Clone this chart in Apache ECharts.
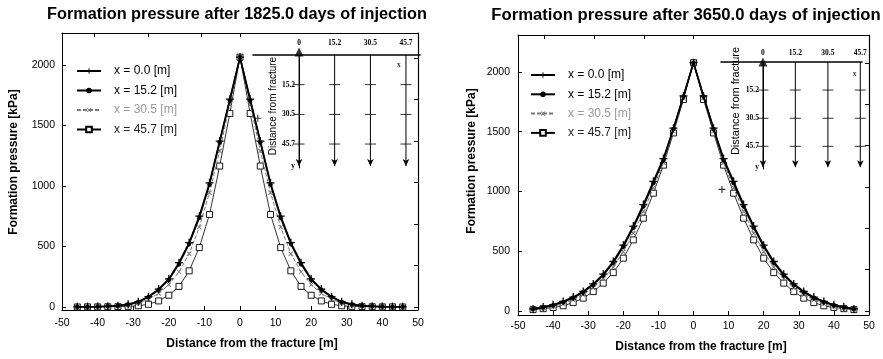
<!DOCTYPE html>
<html><head><meta charset="utf-8">
<script src="https://cdn.jsdelivr.net/npm/echarts@6/dist/echarts.min.js"></script>
<style>html,body{margin:0;padding:0;background:#fff}#c{width:883px;height:359px}</style>
</head><body><div id="c"></div>
<script>
// ---- data ----
const distances = [-45.7,-42.84,-39.99,-37.13,-34.28,-31.42,-28.56,-25.71,-22.85,-19.99,-17.14,-14.28,-11.43,-8.57,-5.71,-2.86,0,2.86,5.71,8.57,11.43,14.28,17.14,19.99,22.85,25.71,28.56,31.42,34.28,37.13,39.99,42.84,45.7];
const seriesNames = ['x = 0.0 [m]','x = 15.2 [m]','x = 30.5 [m]','x = 45.7 [m]'];
const titles = ['Formation pressure after 1825.0 days of injection','Formation pressure after 3650.0 days of injection'];
// 1825 days
const p1825_x00  = [1,2,3,6,11,22,44,85,148,232,366,532,751,1026,1372,1718,2065,1718,1372,1026,751,532,366,232,148,85,44,22,11,6,3,2,1];
const p1825_x152 = [1,2,3,6,10,21,42,82,142,225,356,522,738,1012,1362,1708,2065,1708,1362,1012,738,522,356,225,142,82,42,21,10,6,3,2,1];
const p1825_x305 = [1,2,3,5,9,17,33,64,112,185,290,440,660,945,1290,1675,2065,1675,1290,945,660,440,290,185,112,64,33,17,9,5,3,2,1];
const p1825_x457 = [0,1,1,2,3,5,10,22,50,97,170,299,491,765,1165,1600,2065,1600,1165,765,491,299,170,97,50,22,10,5,3,2,1,1,0];
const stray1825 = [[5.0,1560]];
// 3650 days
const p3650_x00  = [16,31,50,78,115,162,225,307,413,550,710,890,1085,1275,1530,1800,2078,1800,1530,1275,1085,890,710,550,413,307,225,162,115,78,50,31,16];
const p3650_x152 = [15,29,47,74,110,156,218,298,402,538,696,875,1070,1263,1522,1795,2078,1795,1522,1263,1070,875,696,538,402,298,218,156,110,74,47,29,15];
const p3650_x305 = [12,24,38,60,93,135,192,268,365,495,650,830,1030,1240,1505,1782,2078,1782,1505,1240,1030,830,650,495,365,268,192,135,93,60,38,24,12];
const p3650_x457 = [10,18,28,42,69,106,161,232,320,441,594,776,985,1220,1490,1770,2078,1770,1490,1220,985,776,594,441,320,232,161,106,69,42,28,18,10];
const stray3650 = [[8.1,1017]];
// axis ticks
const pressureTicks = [0,500,1000,1500,2000];
const rightTicks1825 = [0,343,686,1029,1372,1715,2058];
const rightTicks3650 = [0,346,692,1038,1384,1730,2076];
const topTicks1825 = [-41,-25.8,-10.8,0.2];
const topTicks3650 = [-42.5,-28.4,-14.1,0];
// inset schematic
const insetX = [0,15.2,30.5,45.7];
const insetY = [15.2,30.5,45.7];
const insetArrowEnd = 57;
const insetXMin = -19.7;

// ---- chart ----
const FONT = 'Liberation Sans';
const panels = [
  {data:[p1825_x00,p1825_x152,p1825_x305,p1825_x457], stray:stray1825, rt:rightTicks1825, tt:topTicks1825,
   grid:{left:62,right:465,top:33,bottom:49}, inset:{left:253,right:463,top:55,bottom:191}, ixMax:51.7,
   ymin:-25, ymax:2265, title:{left:232,fs:16.3}, legend:{left:71,top:60,gap:7.5},
   xname:{gap:28,pad:24}, yname:{gap:42,pad:19}, xm:8, ym:7,
   iname:{fs:10,gap:21,pad:11}, itop:8, xlab:[42.7,5.1], triOff:-3},
  {data:[p3650_x00,p3650_x152,p3650_x305,p3650_x457], stray:stray3650, rt:rightTicks3650, tt:topTicks3650,
   grid:{left:518,right:14,top:35,bottom:44}, inset:{left:721,right:21,top:62,bottom:190}, ixMax:46.5,
   ymin:-35, ymax:2310, title:{left:681,fs:16.7}, legend:{left:525,top:64,gap:7.3},
   xname:{gap:26,pad:15}, yname:{gap:40,pad:28}, xm:6, ym:8,
   iname:{fs:11,gap:19,pad:29}, itop:5, xlab:[43,6.3], triOff:0}
];

const plusPath = 'path://M-0.8,-5L0.8,-5L0.8,5L-0.8,5ZM-5,-0.8L5,-0.8L5,0.8L-5,0.8Z';
const styles = [
  {symbol:plusPath, symbolSize:8, itemStyle:{color:'#000'}, lineStyle:{color:'#000',width:1.6}},
  {symbol:'circle', symbolSize:4.5, itemStyle:{color:'#000'}, lineStyle:{color:'#000',width:1.6}},
  {symbol:plusPath, symbolSize:6, symbolRotate:45, itemStyle:{color:'#777'}, lineStyle:{color:'#777',width:1,type:[4,2]}},
  {symbol:'rect', symbolSize:6, itemStyle:{color:'#fff',borderColor:'#000',borderWidth:0.9}, lineStyle:{color:'#000',width:0.8}}
];

const grid=[], xAxis=[], yAxis=[], series=[], title=[], legend=[];
panels.forEach((p,i)=>{ grid[i]=p.grid; });
panels.forEach((p,i)=>{ grid[2+i]=p.inset; });
panels.forEach((p,i)=>{ grid[4+i]=p.grid; });

panels.forEach((p,i)=>{
  const insetW = 883 - p.inset.left - p.inset.right;
  const yOff = -((0 - insetXMin) / (p.ixMax - insetXMin)) * insetW;
  title.push({text:titles[i], left:p.title.left, top:2, textAlign:'center',
    textStyle:{fontFamily:FONT,fontWeight:'bold',fontSize:p.title.fs,color:'#000'}});
  legend.push({orient:'vertical', left:p.legend.left, top:p.legend.top, itemWidth:24, itemHeight:7, itemGap:p.legend.gap,
    data:seriesNames.map((n,k)=>({name:n, textStyle:{color:k===2?'#9a9a9a':(k===3?'#222':'#000')}})),
    textStyle:{fontFamily:FONT,fontSize:12,padding:[0,0,0,8]}, selectedMode:false});
  // main x
  xAxis[i]={gridIndex:i, type:'value', min:-50, max:50, interval:10,
    name:'Distance from the fracture [m]', nameLocation:'middle', nameGap:p.xname.gap,
    nameTextStyle:{fontFamily:FONT,fontWeight:'bold',fontSize:12,color:'#000',padding:[0,0,0,p.xname.pad]},
    axisLine:{onZero:false,lineStyle:{color:'#000',width:1}}, axisTick:{inside:true,length:4,lineStyle:{color:'#000'}},
    axisLabel:{fontFamily:FONT,fontSize:10.5,color:'#000',margin:p.xm,formatter:v=>String(v)}, splitLine:{show:false}};
  // top mirror x
  xAxis[2+i]={gridIndex:4+i, type:'value', min:-50, max:50, position:'top',
    axisLine:{onZero:false,lineStyle:{color:'#000',width:1}}, axisTick:{inside:true,length:4,customValues:p.tt,lineStyle:{color:'#000'}},
    axisLabel:{show:false}, splitLine:{show:false}};
  // inset x
  xAxis[4+i]={gridIndex:2+i, type:'value', min:insetXMin, max:p.ixMax, position:'top',
    axisLine:{onZero:false,lineStyle:{color:'#000',width:1.5}}, axisTick:{show:false},
    axisLabel:{customValues:insetX, formatter:v=>v===0?'0':v.toFixed(1), fontFamily:'Liberation Serif',fontWeight:'bold',fontSize:7.5,color:'#000',margin:p.itop},
    splitLine:{show:false}};
  // main y
  yAxis[i]={gridIndex:i, type:'value', min:p.ymin, max:p.ymax,
    name:'Formation pressure [kPa]', nameLocation:'middle', nameGap:p.yname.gap, nameRotate:90,
    nameTextStyle:{fontFamily:FONT,fontWeight:'bold',fontSize:12,color:'#000',padding:[0,0,0,p.yname.pad]},
    axisLine:{onZero:false,lineStyle:{color:'#000',width:1}},
    axisTick:{inside:true,length:4,customValues:pressureTicks,lineStyle:{color:'#000'}},
    axisLabel:{customValues:pressureTicks,formatter:v=>String(v),fontFamily:FONT,fontSize:10.5,color:'#000',margin:p.ym}, splitLine:{show:false}};
  // right mirror y
  yAxis[2+i]={gridIndex:4+i, type:'value', min:p.ymin, max:p.ymax, position:'right',
    axisLine:{onZero:false,lineStyle:{color:'#000',width:1.2}},
    axisTick:{inside:true,length:4,customValues:p.rt,lineStyle:{color:'#000'}},
    axisLabel:{show:false}, splitLine:{show:false}};
  // inset y (moved onto x = 0 of the inset)
  yAxis[4+i]={gridIndex:2+i, type:'value', min:0, max:58, inverse:true, offset:yOff,
    name:'Distance from fracture', nameLocation:'middle', nameRotate:90, nameGap:p.iname.gap,
    nameTextStyle:{fontFamily:FONT,fontSize:p.iname.fs,color:'#000',padding:[0,0,0,p.iname.pad]},
    axisLine:{show:true,onZero:false,lineStyle:{color:'#000',width:1}}, axisTick:{show:false},
    axisLabel:{customValues:insetY.concat([insetArrowEnd]), formatter:v=>v===insetArrowEnd?'y':v.toFixed(1),
      fontFamily:'Liberation Serif',fontWeight:'bold',fontSize:7.5,color:'#000',margin:4},
    splitLine:{show:false}};

  // main series
  p.data.forEach((arr,k)=>{
    series.push(Object.assign({type:'line', name:seriesNames[k], xAxisIndex:i, yAxisIndex:i,
      data:distances.map((d,j)=>[d,arr[j]]), showAllSymbol:true, z:10-k}, styles[k]));
  });
  series.push({type:'scatter', xAxisIndex:i, yAxisIndex:i, data:p.stray, symbol:plusPath, symbolSize:7, itemStyle:{color:'#000'}, z:10});

  // inset series
  insetX.forEach((x,k)=>{
    series.push({type:'line', xAxisIndex:4+i, yAxisIndex:4+i, symbol:'arrow', symbolSize:[5,7],
      data:[{value:[x,0],symbol:'none'},{value:[x,insetArrowEnd],symbolRotate:180}],
      lineStyle:{color:'#000',width:1}, itemStyle:{color:'#000'}, z:20, silent:true});
  });
  const crosses=[]; insetX.forEach(x=>insetY.forEach(y=>crosses.push([x,y])));
  series.push({type:'scatter', xAxisIndex:4+i, yAxisIndex:4+i, data:crosses, symbol:'rect', symbolSize:[11,1],
    itemStyle:{color:'#000'}, z:21, silent:true});
  series.push({type:'scatter', xAxisIndex:4+i, yAxisIndex:4+i, data:[[insetX[0],0]], symbol:'triangle', symbolSize:[9,9],
    symbolOffset:[0,p.triOff], itemStyle:{color:'#000'}, z:22, silent:true});
  series.push({type:'scatter', xAxisIndex:4+i, yAxisIndex:4+i, data:[p.xlab], symbolSize:0,
    label:{show:true, formatter:'x', position:'inside', fontFamily:'Liberation Serif', fontWeight:'bold', fontSize:7.5, color:'#000'}, z:22, silent:true});
});

const chart = echarts.init(document.getElementById('c'), null, {renderer:'canvas'});
chart.setOption({animation:false, backgroundColor:'#fff', title, legend, grid, xAxis, yAxis, series});
</script></body></html>
